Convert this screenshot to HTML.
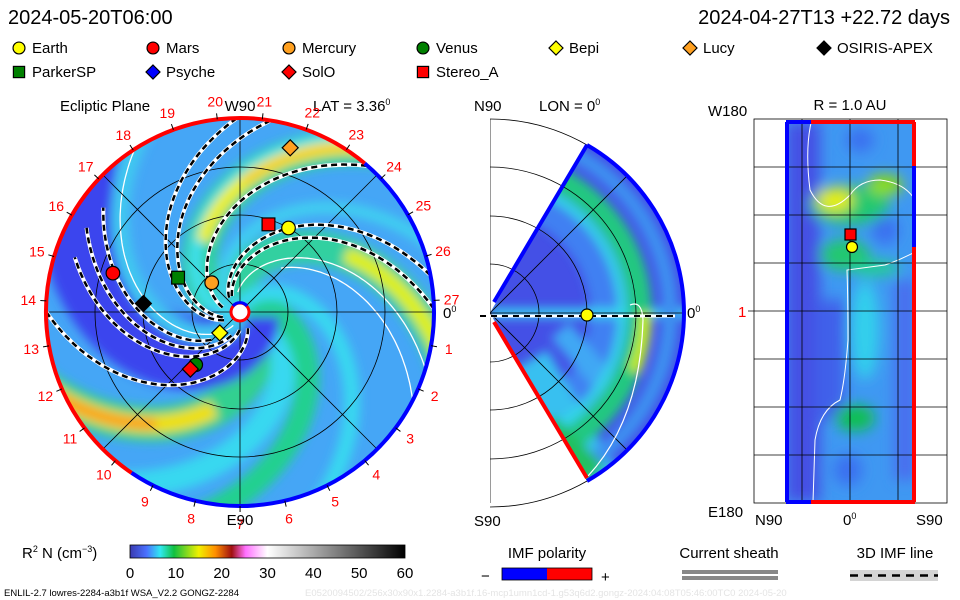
<!DOCTYPE html>
<html><head><meta charset="utf-8"><style>
html,body{margin:0;padding:0;background:#fff}
svg{display:block}
text{font-family:"Liberation Sans",sans-serif;fill:#000}
</style></head><body>
<svg id="s" width="960" height="600" viewBox="0 0 960 600" xmlns="http://www.w3.org/2000/svg">
<defs>
<clipPath id="circ"><circle cx="240" cy="312" r="194"/></clipPath>
<clipPath id="wedge"><path d="M490,313 L587,145 A194,194 0 0 1 587,481 Z"/></clipPath>
<clipPath id="rightside"><rect x="490" y="100" width="220" height="420"/></clipPath>
<clipPath id="rect"><rect x="786" y="122" width="129" height="380"/></clipPath>
<filter id="bl" x="-20%" y="-20%" width="140%" height="140%"><feGaussianBlur stdDeviation="5"/></filter>
<filter id="bl2" x="-50%" y="-50%" width="200%" height="200%"><feGaussianBlur stdDeviation="7"/></filter>
<linearGradient id="cbar" x1="0" x2="1" y1="0" y2="0">
<stop offset="0" stop-color="#3a3ab0"/><stop offset="0.06" stop-color="#4a70ff"/><stop offset="0.11" stop-color="#30e8f0"/>
<stop offset="0.16" stop-color="#10c040"/><stop offset="0.25" stop-color="#f0f000"/><stop offset="0.31" stop-color="#ff9000"/>
<stop offset="0.37" stop-color="#a01010"/><stop offset="0.42" stop-color="#ff70ff"/><stop offset="0.5" stop-color="#ffffff"/>
<stop offset="1" stop-color="#000000"/></linearGradient>
</defs>

<text x="8" y="24" font-size="20">2024-05-20T06:00</text>
<text x="950" y="24" font-size="20" text-anchor="end">2024-04-27T13  +22.72 days</text>

<g id="legend"></g>

<g>
<text x="60" y="111" font-size="15">Ecliptic Plane</text>
<text x="313" y="111" font-size="15">LAT = 3.36<tspan font-size="9" dy="-6">0</tspan></text>
<circle cx="240" cy="312" r="194" fill="#45a6f6"/>
<g clip-path="url(#circ)" id="bands"></g>
<g clip-path="url(#circ)" id="grid" stroke="#000" stroke-width="0.8" fill="none"></g>
<g clip-path="url(#circ)" id="imf"></g>
<g id="rim"></g>
<g id="ticklabels"></g>
<text x="240" y="111" font-size="15" text-anchor="middle">W90</text>
<text x="240" y="525" font-size="15" text-anchor="middle">E90</text>
<text x="443" y="318" font-size="15">0<tspan font-size="9" dy="-6">0</tspan></text>
<circle cx="240" cy="312" r="9" fill="#fff" stroke="#f00" stroke-width="3"/>
<path d="M233,306 A9,9 0 0 1 247,306" fill="none" stroke="#00f" stroke-width="3"/>
<g id="craft"></g>
</g>

<g>
<text x="474" y="111" font-size="15">N90</text>
<text x="539" y="111" font-size="15">LON = 0<tspan font-size="9" dy="-6">0</tspan></text>
<text x="474" y="526" font-size="15">S90</text>
<g stroke="#000" stroke-width="0.8" fill="none" clip-path="url(#rightside)">
<line x1="490" y1="119" x2="490" y2="503"/>
<circle cx="490" cy="313" r="194"/><circle cx="490" cy="313" r="146"/><circle cx="490" cy="313" r="97"/><circle cx="490" cy="313" r="49"/>
</g>
<g clip-path="url(#wedge)">
<rect x="488" y="140" width="210" height="350" fill="#4450e6"/>
<g filter="url(#bl)" fill="none">
<circle cx="490" cy="313" r="120" stroke="#4080f2" stroke-width="40"/>
<path d="M490,313 L700,313" stroke="#38d0f0" stroke-width="10"/>
<path d="M530,360 L600,480" stroke="#38c0f0" stroke-width="40"/>
<path d="M560,330 L620,400" stroke="#40a8f4" stroke-width="24"/>
<circle cx="490" cy="313" r="150" stroke="#20c880" stroke-width="24"/>
<circle cx="490" cy="313" r="155" stroke="#c8f000" stroke-width="12" stroke-dasharray="100 1000" stroke-dashoffset="40"/>
<circle cx="490" cy="313" r="132" stroke="#30d8e8" stroke-width="8"/>
<circle cx="490" cy="313" r="180" stroke="#3c90f0" stroke-width="16"/>
<path d="M540,430 L590,480" stroke="#20c060" stroke-width="40"/>
</g>
<g stroke="#000" stroke-width="0.8" fill="none">
<circle cx="490" cy="313" r="49"/><circle cx="490" cy="313" r="97"/><circle cx="490" cy="313" r="146"/>
<line x1="490" y1="313" x2="700" y2="313"/><line x1="490" y1="313" x2="637" y2="166"/><line x1="490" y1="313" x2="637" y2="460"/>
</g>
<path d="M630,305 Q642,300 643,320 Q640,420 588,476" fill="none" stroke="#fff" stroke-width="1.2"/>
</g>
<path d="M494,302 L587,145" stroke="#00f" stroke-width="4" fill="none"/>
<path d="M587,145 A194,194 0 0 1 587,481" stroke="#00f" stroke-width="4" fill="none"/>
<path d="M494,322 L587,478" stroke="#f00" stroke-width="4" fill="none"/>
<line x1="480" y1="316" x2="675" y2="316" stroke="#fff" stroke-width="3"/>
<line x1="480" y1="316" x2="675" y2="316" stroke="#000" stroke-width="2" stroke-dasharray="6 5"/>
<circle cx="587" cy="315" r="6" fill="#ff0" stroke="#000" stroke-width="1.2"/>
<text x="687" y="318" font-size="15">0<tspan font-size="9" dy="-6">0</tspan></text>
</g>

<g>
<text x="850" y="110" font-size="15" text-anchor="middle">R = 1.0 AU</text>
<text x="708" y="116" font-size="15">W180</text>
<text x="708" y="517" font-size="15">E180</text>
<rect x="754" y="119" width="193" height="384" fill="#fff" stroke="#000" stroke-width="0.8"/>
<text x="755" y="525" font-size="15">N90</text>
<text x="843" y="525" font-size="15">0<tspan font-size="9" dy="-6">0</tspan></text>
<text x="916" y="525" font-size="15">S90</text>
<text x="738" y="317" font-size="15" style="fill:#f00">1</text>
<g clip-path="url(#rect)">
<rect x="786" y="122" width="129" height="380" fill="#3f98f2"/>
<g filter="url(#bl2)">
<rect x="786" y="122" width="34" height="380" fill="#4450e4"/>
<rect x="815" y="300" width="30" height="120" fill="#4060ea"/>
<rect x="895" y="280" width="20" height="200" fill="#4a6cee"/>
<ellipse cx="850" cy="205" rx="40" ry="20" fill="#20c870"/>
<ellipse cx="835" cy="200" rx="18" ry="12" fill="#e8f000"/>
<ellipse cx="885" cy="185" rx="18" ry="10" fill="#90e000"/>
<ellipse cx="845" cy="255" rx="25" ry="16" fill="#20c870"/>
<ellipse cx="875" cy="268" rx="25" ry="8" fill="#20d090"/>
<ellipse cx="855" cy="418" rx="20" ry="13" fill="#10c050"/>
<ellipse cx="865" cy="330" rx="14" ry="50" fill="#30d0ec"/>
<ellipse cx="860" cy="140" rx="14" ry="12" fill="#3a70f0"/>
<ellipse cx="848" cy="470" rx="14" ry="16" fill="#3a70f0"/>
<ellipse cx="885" cy="230" rx="14" ry="14" fill="#3a70f0"/>
</g>
<path d="M811,123 Q805,150 810,190 Q825,220 850,195 Q860,180 880,180 Q905,183 915,200" fill="none" stroke="#fff" stroke-width="1"/>
<path d="M915,252 Q900,260 885,265 L847,270 Q848,300 848,340 Q845,380 840,400 Q820,410 815,440 L813,502" fill="none" stroke="#fff" stroke-width="1"/>
</g>
<g stroke="#000" stroke-width="0.8">
<line x1="802" y1="119" x2="802" y2="503"/><line x1="850" y1="119" x2="850" y2="503"/><line x1="898" y1="119" x2="898" y2="503"/>
<line x1="754" y1="167" x2="947" y2="167"/><line x1="754" y1="215" x2="947" y2="215"/><line x1="754" y1="263" x2="947" y2="263"/>
<line x1="748" y1="311" x2="947" y2="311"/><line x1="754" y1="359" x2="947" y2="359"/><line x1="754" y1="407" x2="947" y2="407"/><line x1="754" y1="455" x2="947" y2="455"/>
</g>
<g fill="none" stroke-width="4">
<line x1="787" y1="122" x2="787" y2="502" stroke="#00f"/>
<line x1="786" y1="122" x2="811" y2="122" stroke="#00f"/><line x1="811" y1="122" x2="915" y2="122" stroke="#f00"/>
<line x1="786" y1="502" x2="811" y2="502" stroke="#00f"/><line x1="811" y1="502" x2="915" y2="502" stroke="#f00"/>
<line x1="914" y1="122" x2="914" y2="166" stroke="#f00"/><line x1="914" y1="166" x2="914" y2="247" stroke="#00f"/><line x1="914" y1="247" x2="914" y2="502" stroke="#f00"/>
</g>
<rect x="845" y="229" width="11" height="11" fill="#f00" stroke="#000" stroke-width="1.2"/>
<circle cx="852" cy="247" r="5.5" fill="#ff0" stroke="#000" stroke-width="1.2"/>
</g>

<g>
<text x="22" y="558" font-size="15">R<tspan font-size="9" dy="-6">2</tspan><tspan dy="6"> N (cm</tspan><tspan font-size="9" dy="-6">−3</tspan><tspan dy="6">)</tspan></text>
<rect x="130" y="545" width="275" height="13" fill="url(#cbar)" stroke="#000" stroke-width="0.8"/>
<g id="cbticks"></g>
</g>
<g>
<text x="547" y="558" font-size="15" text-anchor="middle">IMF polarity</text>
<rect x="502" y="568" width="45" height="12" fill="#00f"/><rect x="547" y="568" width="45" height="12" fill="#f00"/>
<rect x="502" y="568" width="90" height="12" fill="none" stroke="#000" stroke-width="0.8"/>
<text x="481" y="581" font-size="15">−</text><text x="601" y="582" font-size="15">+</text>
</g>
<g>
<text x="729" y="558" font-size="15" text-anchor="middle">Current sheath</text>
<rect x="682" y="570" width="96" height="4" fill="#888"/><rect x="682" y="576" width="96" height="4" fill="#888"/>
</g>
<g>
<text x="895" y="558" font-size="15" text-anchor="middle">3D IMF line</text>
<rect x="850" y="570" width="88" height="11" fill="#d4d4d4"/>
<line x1="850" y1="575.5" x2="938" y2="575.5" stroke="#000" stroke-width="2.5" stroke-dasharray="8 6"/>
</g>
<text x="4" y="596" font-size="9.5">ENLIL-2.7 lowres-2284-a3b1f WSA_V2.2 GONGZ-2284</text>
<text x="305" y="596" font-size="9.5" style="fill:#e4e4e4">E0520094502/256x30x90x1.2284-a3b1f.16-mcp1umn1cd-1.g53q6d2.gongz-2024:04:08T05:46:00TC0   2024-05-20</text>
</svg>
<script>
// ---- data ----
const craftNames = ["Earth","Mars","Mercury","Venus","Bepi","Lucy","OSIRIS-APEX","ParkerSP","SolO","Stereo_A"];
const craftR = [1.00,1.37,0.42,0.71,0.30,1.77,1.00,0.73,0.78,0.95];      // AU
const craftLon = [60,163,134,-130,-134,73,175,151,-131,72];               // deg
const legendNames = ["Earth","Mars","Mercury","Venus","Bepi","Lucy","OSIRIS-APEX","ParkerSP","Psyche","SolO","Stereo_A"];
const cbTicks = [0,10,20,30,40,50,60];
const sectorLabels = [1,2,3,4,5,6,7,8,9,10,11,12,13,14,15,16,17,18,19,20,21,22,23,24,25,26,27];
const imfPhases = [-178,-168,-258,-248,-216,13,40,50,60];
const imfInner = [18,18,18,18,18,18,18,25,40];
const imfOuter = [194,194,194,194,194,194,175,175,172];
const bandPhases = [-160,-225,-15,-49,-72,45,-105,-290,130,-190];
const bandColors = ["#30d0a0","#30d0a0","#30d090","#38d8f0","#20d090","#3a44ee","#38d8f0","#40c8f0","#40e0f0","#40d0f0"];
const bandWidths = [34,36,36,26,24,75,16,18,12,12];

const NS="http://www.w3.org/2000/svg";
const CX=240, CY=312, AUPX=97;
function mk(tag, attrs, parent){const e=document.createElementNS(NS,tag);for(const k in attrs)e.setAttribute(k,attrs[k]);parent.appendChild(e);return e;}
function spiral(phi0, r0, r1){let d="";for(let r=r0;r<=r1;r+=2){const a=(phi0+12*Math.sqrt(r))*Math.PI/180;d+=(d?"L":"M")+(CX+r*Math.cos(a)).toFixed(1)+","+(CY+r*Math.sin(a)).toFixed(1);}return d;}
const S = id=>document.getElementById(id);

// bands
const bands=S("bands");
const bg=mk("g",{filter:"url(#bl)"},bands);
bandPhases.forEach((p,i)=>{
  const e=mk("path",{d:spiral(p,5,260),fill:"none",stroke:bandColors[i],"stroke-width":bandWidths[i]},bg);
  
  
});
const cores=[[-160,120,260,"#e0f000",16],[-225,80,260,"#f0f000",14],[-225,130,200,"#ffc000",6],[-15,100,260,"#f0e000",18],[-15,140,260,"#ff9020",9]];
cores.forEach(c=>{
  const e=mk("path",{d:spiral(c[0],c[1],c[2]),fill:"none",stroke:c[3],"stroke-width":c[4]},bg);
  
  
});
[[-150,20,194],[-140,60,194],[-215,20,180],[70,15,194]].forEach(c=>{
  const e=mk("path",{d:spiral(c[0],c[1],c[2]),fill:"none",stroke:"#fff","stroke-width":1.3},bands);
  
  
});

// grid
const grid=S("grid");
[48,97,145,194].forEach(r=>mk("circle",{cx:CX,cy:CY,r:r},grid));
mk("line",{x1:CX-194,y1:CY,x2:CX+194,y2:CY},grid);
mk("line",{x1:CX,y1:CY-194,x2:CX,y2:CY+194},grid);
mk("line",{x1:CX-137,y1:CY-137,x2:CX+137,y2:CY+137},grid);
mk("line",{x1:CX-137,y1:CY+137,x2:CX+137,y2:CY-137},grid);

// imf lines
const imf=S("imf");
imfPhases.forEach((p,i)=>{
  const d=spiral(p,imfInner[i],imfOuter[i]);
  const w=mk("path",{d:d,fill:"none",stroke:"#fff","stroke-width":4},imf);
  
  
  const b=mk("path",{d:d,fill:"none",stroke:"#000","stroke-width":2.5,"stroke-dasharray":"6 4"},imf);
  
  
});

// rim
const rim=S("rim");
function arc(a0,a1,col){const r=194,p0=[CX+r*Math.cos(a0*Math.PI/180),CY+r*Math.sin(a0*Math.PI/180)],p1=[CX+r*Math.cos(a1*Math.PI/180),CY+r*Math.sin(a1*Math.PI/180)];
 return mk("path",{d:`M${p0[0]},${p0[1]} A${r},${r} 0 ${(a1-a0)>180?1:0} 1 ${p1[0]},${p1[1]}`,fill:"none",stroke:col,"stroke-width":4},rim);}
const ra=arc(124,310,"#f00");  
const rb=arc(-50,124,"#00f");  

// sector labels
const tl=S("ticklabels");
sectorLabels.forEach(n=>{
  const a=(10+(n-1)*13.33)*Math.PI/180;
  const t=mk("text",{x:(CX+212*Math.cos(a)).toFixed(1),y:(CY+212*Math.sin(a)+5).toFixed(1),"font-size":14,"text-anchor":"middle",style:"fill:#f00"},tl);
  t.textContent=n;
  
  
  mk("line",{x1:CX+194*Math.cos(a),y1:CY+194*Math.sin(a),x2:CX+200*Math.cos(a),y2:CY+200*Math.sin(a),stroke:"#000","stroke-width":1},tl);
});

// markers
const styles={"Earth":["circle","#ffff00"],"Mars":["circle","#ff0000"],"Mercury":["circle","#ffa020"],"Venus":["circle","#008000"],
"Bepi":["diamond","#ffff00"],"Lucy":["diamond","#ffa020"],"OSIRIS-APEX":["diamond","#000000"],"ParkerSP":["square","#008000"],
"Psyche":["diamond","#0000ff"],"SolO":["diamond","#ff0000"],"Stereo_A":["square","#ff0000"]};
function marker(name,x,y,parent,s){
  const st=styles[name];let e;
  if(st[0]==="circle") e=mk("circle",{cx:x,cy:y,r:s*0.85,fill:st[1],stroke:"#000","stroke-width":1.2},parent);
  else if(st[0]==="square") e=mk("rect",{x:x-s*0.8,y:y-s*0.8,width:s*1.6,height:s*1.6,fill:st[1],stroke:"#000","stroke-width":1.2},parent);
  else e=mk("path",{d:`M${x},${y-s} L${x+s},${y} L${x},${y+s} L${x-s},${y} Z`,fill:st[1],stroke:"#000","stroke-width":1.2},parent);
  return e;
}
const cg=S("craft");
craftNames.forEach((n,i)=>{
  const a=-craftLon[i]*Math.PI/180, r=craftR[i]*AUPX;
  const e=marker(n,CX+r*Math.cos(a),CY+r*Math.sin(a),cg,8);
  
  
});

// legend
const lg=S("legend");
const lx=[19,153,289,423,556,690,824];
legendNames.forEach((n,i)=>{
  const row=i<7?0:1, col=i<7?i:i-7;
  const x=lx[col], y=row?72:48;
  const m=marker(n,x,y,lg,7);
  
  
  const t=mk("text",{x:x+13,y:y+5,"font-size":15},lg);
  t.textContent=n;
  
  
});

// colorbar ticks
const cb=S("cbticks");
cbTicks.forEach(v=>{
  const x=130+v/60*275;
  const t=mk("text",{x:x,y:578,"font-size":15,"text-anchor":"middle"},cb);
  t.textContent=v;
  
  
});
</script>
</body></html>
